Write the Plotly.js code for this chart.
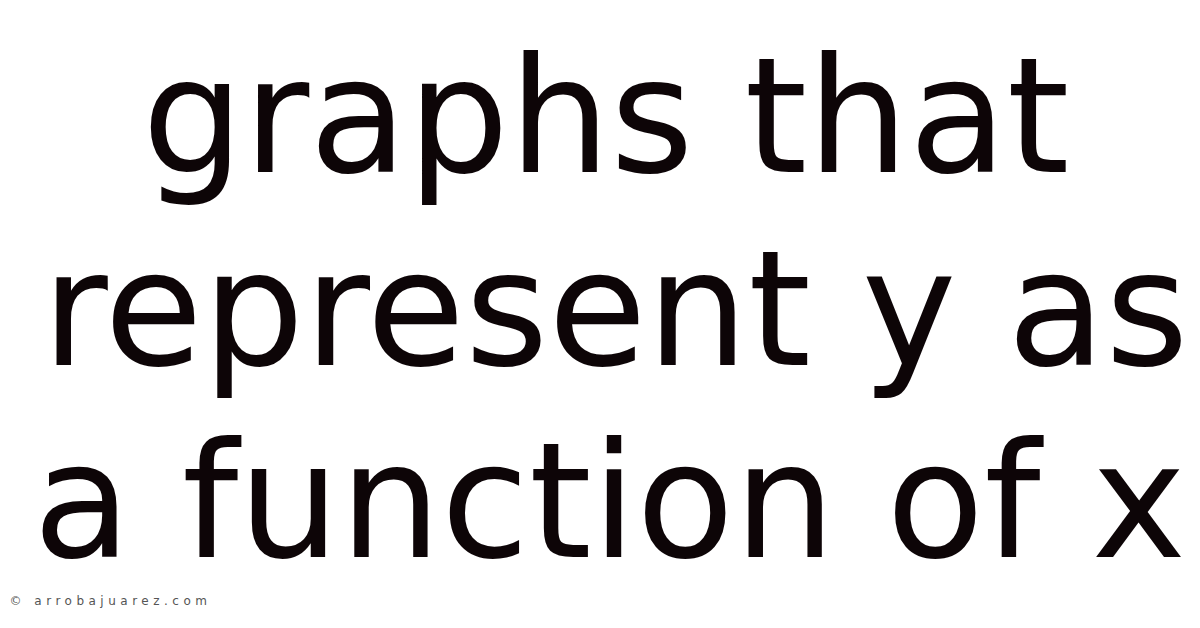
<html>
<head>
<meta charset="utf-8" />
<title>graphs that represent y as a function of x</title>
<script src="https://cdn.plot.ly/plotly-3.0.1.min.js"></script>
<style>
  body { margin: 0; background: #fff; }
  #myDiv { width: 1200px; height: 628px; }
</style>
</head>
<body>
<div id="myDiv"></div>
<script>

// the three lines of the title and where their centres sit (pixel space)
var lines = ['graphs that', 'represent y as', 'a function of x'];
var lineX = [606, 615, 609];
var lineY = [116, 309, 501];

var footer = '\u00a9 arrobajuarez.com';

var textColor = '#0d0507';

var anns = [];
for (var i = 0; i < lines.length; i++) {
  anns.push({
    x: lineX[i],
    y: lineY[i],
    xref: 'x',
    yref: 'y',
    text: lines[i],
    showarrow: false,
    xanchor: 'center',
    yanchor: 'middle',
    font: { family: 'DejaVu Sans', size: 160, color: textColor }
  });
}

// footer is centred so the letter-spacing below grows both ways evenly
anns.push({
  x: 110,
  y: 601,
  xref: 'x',
  yref: 'y',
  text: footer,
  showarrow: false,
  xanchor: 'center',
  yanchor: 'middle',
  font: { family: 'DejaVu Sans', size: 12, color: '#555555' }
});

var layout = {
  width: 1200,
  height: 628,
  margin: { l: 0, r: 0, t: 0, b: 0 },
  paper_bgcolor: '#ffffff',
  plot_bgcolor: '#ffffff',
  showlegend: false,
  xaxis: { range: [0, 1200], visible: false, fixedrange: true },
  yaxis: { range: [628, 0], visible: false, fixedrange: true },
  annotations: anns
};

Plotly.newPlot('myDiv', [], layout, { staticPlot: true }).then(function () {
  // the footer is letter-spaced in the original
  var t = document.querySelectorAll('.annotation-text');
  var last = t[t.length - 1];
  if (last) last.style.letterSpacing = '4.5px';
});

</script>
</body>
</html>
